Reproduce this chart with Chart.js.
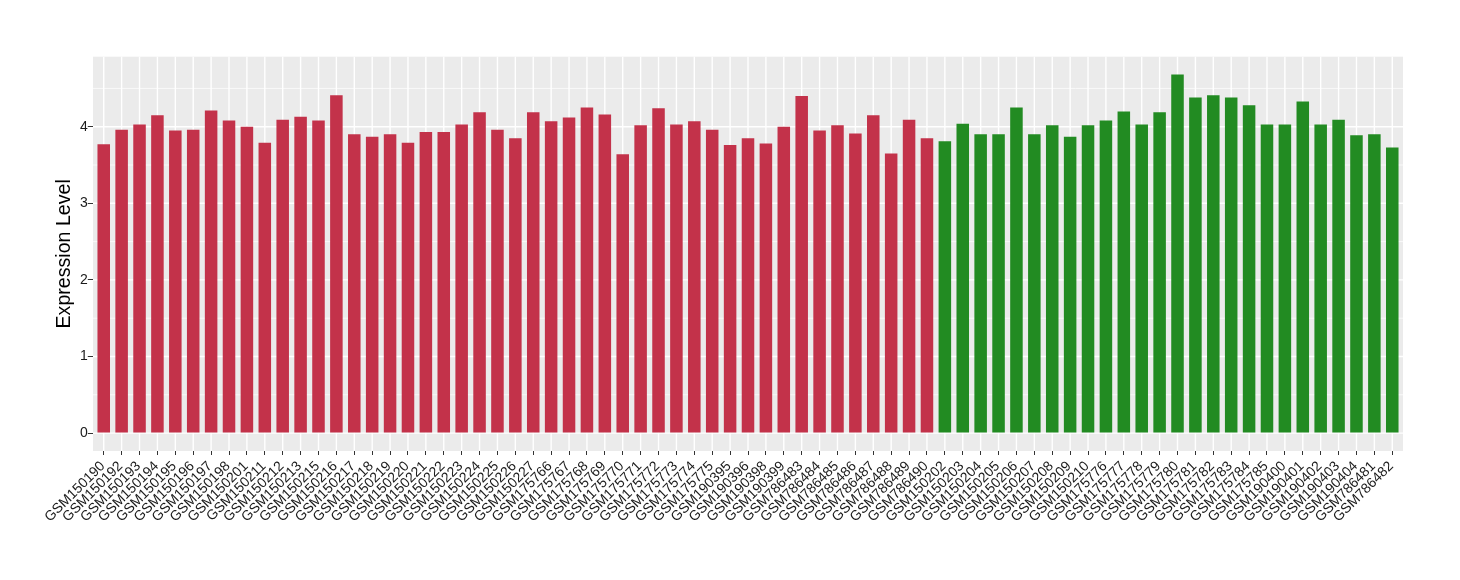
<!DOCTYPE html>
<html><head><meta charset="utf-8">
<script src="https://cdn.jsdelivr.net/npm/chart.js@4/dist/chart.umd.min.js"></script>
<style>html,body{margin:0;padding:0;background:#fff}#wrap{width:1460px;height:580px}</style>
</head><body><div id="wrap"><canvas id="c" width="1460" height="580"></canvas></div>
<script>
const redSamples = ["GSM150190","GSM150192","GSM150193","GSM150194","GSM150195","GSM150196","GSM150197","GSM150198","GSM150201","GSM150211","GSM150212","GSM150213","GSM150215","GSM150216","GSM150217","GSM150218","GSM150219","GSM150220","GSM150221","GSM150222","GSM150223","GSM150224","GSM150225","GSM150226","GSM150227","GSM175766","GSM175767","GSM175768","GSM175769","GSM175770","GSM175771","GSM175772","GSM175773","GSM175774","GSM175775","GSM190395","GSM190396","GSM190398","GSM190399","GSM786483","GSM786484","GSM786485","GSM786486","GSM786487","GSM786488","GSM786489","GSM786490"];
const redValues = [3.77,3.96,4.03,4.15,3.95,3.96,4.21,4.08,4.00,3.79,4.09,4.13,4.08,4.41,3.90,3.87,3.90,3.79,3.93,3.93,4.03,4.19,3.96,3.85,4.19,4.07,4.12,4.25,4.16,3.64,4.02,4.24,4.03,4.07,3.96,3.76,3.85,3.78,4.00,4.40,3.95,4.02,3.91,4.15,3.65,4.09,3.85];
const greenSamples = ["GSM150202","GSM150203","GSM150204","GSM150205","GSM150206","GSM150207","GSM150208","GSM150209","GSM150210","GSM175776","GSM175777","GSM175778","GSM175779","GSM175780","GSM175781","GSM175782","GSM175783","GSM175784","GSM175785","GSM190400","GSM190401","GSM190402","GSM190403","GSM190404","GSM786481","GSM786482"];
const greenValues = [3.81,4.04,3.90,3.90,4.25,3.90,4.02,3.87,4.02,4.08,4.20,4.03,4.19,4.68,4.38,4.41,4.38,4.28,4.03,4.03,4.33,4.03,4.09,3.89,3.90,3.73];
const yTickValues = [0,0.5,1,1.5,2,2.5,3,3.5,4,4.5];
const yAxisTitle = "Expression Level";

const RED = "#C3324A", GREEN = "#228B22";
const categories = redSamples.concat(greenSamples);
const values = redValues.concat(greenValues);
const colors = redSamples.map(()=>RED).concat(greenSamples.map(()=>GREEN));
const FONT = "'Liberation Sans', Arial, Helvetica, sans-serif";

const W = 1460, H = 580;
const panelL = 93, panelR = 1403, panelT = 56.7, panelB = 451;
const unit = (panelR - panelL) / (categories.length + 0.2);
const areaL = panelL + 0.1 * unit, areaR = panelR - 0.1 * unit;

const panelPlugin = {
  id: 'panel',
  beforeDatasetsDraw(chart) {
    const {ctx, chartArea: a, scales: {x, y}} = chart;
    const ext = 0.1 * (a.width / categories.length);
    const L = a.left - ext, R = a.right + ext;
    ctx.save();
    ctx.fillStyle = '#EBEBEB';
    ctx.fillRect(L, a.top, R - L, a.bottom - a.top);
    ctx.strokeStyle = '#FFFFFF';
    y.ticks.forEach(t => {
      const py = y.getPixelForValue(t.value);
      ctx.lineWidth = Number.isInteger(t.value) ? 1.4 : 0.7;
      ctx.beginPath(); ctx.moveTo(L, py); ctx.lineTo(R, py); ctx.stroke();
    });
    ctx.lineWidth = 1.4;
    categories.forEach((c, i) => {
      const px = x.getPixelForValue(i);
      ctx.beginPath(); ctx.moveTo(px, a.top); ctx.lineTo(px, a.bottom); ctx.stroke();
    });
    ctx.restore();
  }
};

new Chart(document.getElementById('c'), {
  type: 'bar',
  data: {
    labels: categories,
    datasets: [{ data: values, backgroundColor: colors, borderWidth: 0, barPercentage: 0.7, categoryPercentage: 1.0 }]
  },
  options: {
    responsive: false,
    devicePixelRatio: 1,
    animation: false,
    layout: { padding: { left: 0, right: W - areaR, top: panelT, bottom: 0 } },
    plugins: { legend: { display: false }, tooltip: { enabled: false } },
    scales: {
      x: {
        type: 'category',
        offset: true,
        border: { display: false },
        grid: { drawOnChartArea: false, drawTicks: true, tickLength: 4, tickColor: '#333333', tickWidth: 1, offset: false },
        ticks: { autoSkip: false, minRotation: 45, maxRotation: 45, padding: 3, labelOffset: -1, color: '#1a1a1a', font: { family: FONT, size: 14 } },
        afterFit(s) { s.height = H - panelB; }
      },
      y: {
        min: -0.234, max: 4.914,
        border: { display: false },
        afterBuildTicks(s) { s.ticks = yTickValues.map(v => ({ value: v })); },
        grid: { drawOnChartArea: false, drawTicks: true, tickLength: 7, tickWidth: 1,
                tickColor: ctx => (ctx.tick && Number.isInteger(ctx.tick.value)) ? '#333333' : 'rgba(0,0,0,0)' },
        ticks: { padding: 0, color: '#1a1a1a', font: { family: FONT, size: 14 },
                 callback: v => Number.isInteger(v) ? String(v) : '' },
        title: { display: true, text: yAxisTitle, color: '#000', font: { family: FONT, size: 19.6 }, padding: { top: 53, bottom: 0 } },
        afterFit(s) { s.width = areaL; }
      }
    }
  },
  plugins: [panelPlugin]
});
</script></body></html>
